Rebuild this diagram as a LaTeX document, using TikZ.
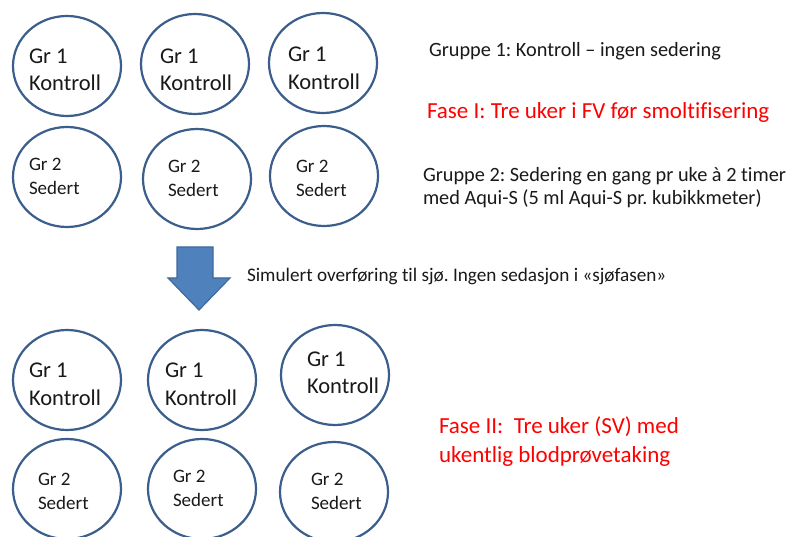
\documentclass[tikz,border=0pt]{standalone}
\usepackage{fontspec}
\setmainfont{Carlito}[Ligatures={NoCommon}]
\usetikzlibrary{shapes.geometric}
\definecolor{ringblue}{HTML}{3B5E8C}
\definecolor{arrowfill}{HTML}{4F81BD}
\definecolor{arrowline}{HTML}{3F6A9A}
\frenchspacing
\begin{document}
\begin{tikzpicture}[x=1pt,y=-1pt,
  tank/.style={ellipse, draw=ringblue, line width=2.2pt, minimum width=108pt, minimum height=100pt, inner sep=0pt},
  lbl/.style={anchor=base west, inner sep=0pt, outer sep=0pt, text=black!90},
  big/.style={lbl, font=\fontsize{22.5}{27}\selectfont},
  small/.style={lbl, font=\fontsize{19}{23}\selectfont},
  note/.style={lbl, font=\fontsize{20.3}{24}\selectfont},
  simtext/.style={lbl, font=\fontsize{19.2}{23}\selectfont},
  phase/.style={lbl, text=red, font=\fontsize{23}{27}\selectfont},
  blockarrow/.style={fill=arrowfill, draw=arrowline, line width=1.2pt, line join=miter}]
\useasboundingbox (0,0) rectangle (787,537);
\fill[white] (0,0) rectangle (787,537);
% Gr 1 Kontroll tanks
\foreach \n/\cx/\cy/\tx/\ya/\yb in {a/67/66/29/64/91, b/195/64/160/64/91, c/323/63/288/62/90, g/67/380/29/377/405, h/202/380/165/377/405, i/335/375/307/366/393}{
  \node[tank] (tank-\n) at (\cx,\cy) {};
  \node[big] (gr-\n) at (\tx,\ya) {Gr 1};
  \node[big] (kind-\n) at (\tx,\yb) {Kontroll};
}
% Gr 2 Sedert tanks
\foreach \n/\cx/\cy/\tx/\ya/\yb in {d/67/177/29/171/195, e/197/179/168/173/197, f/324/176/296/173/197, j/67/489/38/485/509, k/202/489/173/482/506, l/334/492/311/485/509}{
  \node[tank] (tank-\n) at (\cx,\cy) {};
  \node[small] (gr-\n) at (\tx,\ya) {Gr 2};
  \node[small] (kind-\n) at (\tx,\yb) {Sedert};
}
% block arrow
\draw[blockarrow] (177,247) -- (213,247) -- (213,278) -- (230,278) -- (199,310) -- (168,278) -- (177,278) -- cycle;
% texts
\node[note] (g1) at (429,57) {Gruppe 1: Kontroll – ingen sedering};
\node[phase] (f1) at (427,119) {Fase I: Tre uker i FV før smoltifisering};
\node[note] (g2a) at (423,182) {Gruppe 2: Sedering en gang pr uke à 2 timer};
\node[note] (g2b) at (423,205) {med Aqui-S (5 ml Aqui-S pr. kubikkmeter)};
\node[simtext] (sim) at (247,282) {Simulert overføring til sjø. Ingen sedasjon i «sjøfasen»};
\node[phase] (f2a) at (439,433) {Fase II:\ \ Tre uker (SV) med};
\node[phase] (f2b) at (439,462) {ukentlig blodprøvetaking};
\end{tikzpicture}
\end{document}
